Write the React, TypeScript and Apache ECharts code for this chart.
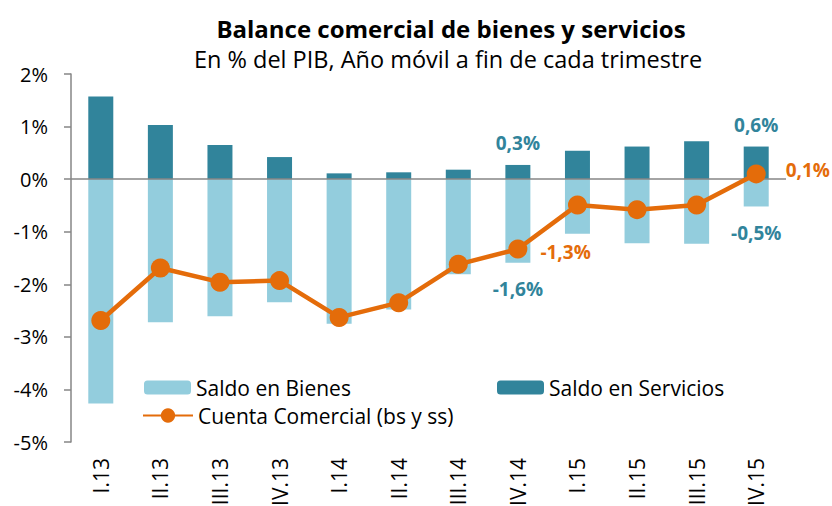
import React, { useEffect, useRef } from "react";
import * as echarts from "echarts";

const categories = ["I.13", "II.13", "III.13", "IV.13", "I.14", "II.14", "III.14", "IV.14", "I.15", "II.15", "III.15", "IV.15"];
const bienes = [-4.27, -2.72, -2.61, -2.34, -2.75, -2.48, -1.81, -1.59, -1.04, -1.22, -1.23, -0.52];
const servicios = [1.57, 1.03, 0.65, 0.42, 0.11, 0.13, 0.18, 0.27, 0.54, 0.62, 0.72, 0.62];
const cuenta = [-2.69, -1.69, -1.96, -1.93, -2.63, -2.35, -1.62, -1.33, -0.49, -0.58, -0.49, 0.1];
const yTicks = [-5, -4, -3, -2, -1, 0, 1, 2];
const labeledIdx = [7, 11];

const FONT = "'Open Sans', sans-serif";
const TEAL = "#31849B";
const LIGHT = "#93CDDD";
const ORANGE = "#E46C0A";
const AXIS = "#868686";
const fmt = (v: number) => v.toFixed(1).replace(".", ",") + "%";

export default function App() {
  const ref = useRef<HTMLDivElement>(null);
  useEffect(() => {
    if (!ref.current) return;
    const chart = echarts.init(ref.current, undefined, { renderer: "svg" });
    const barLabel = (pos: string, dist: number) => ({
      show: true,
      position: pos,
      distance: dist,
      color: TEAL,
      fontWeight: "bold",
      fontSize: 19,
      fontFamily: FONT,
      formatter: (p: any) => fmt(p.value),
    });
    const lineLabelCfg: Record<number, any> = {
      7: { distance: 13, offset: [0, 3] },
      11: { distance: 20, offset: [0, -4] },
    };
    const legendText = { fontFamily: FONT, fontSize: 21, color: "#000" };
    chart.setOption({
      animation: false,
      textStyle: { fontFamily: FONT },
      title: [
        {
          text: "Balance comercial de bienes y servicios",
          left: 451,
          top: 15,
          padding: 0,
          textAlign: "center",
          textStyle: { fontFamily: FONT, fontWeight: "bold", fontSize: 24, lineHeight: 26, color: "#000" },
        },
        {
          text: "En % del PIB, Año móvil a fin de cada trimestre",
          left: 448,
          top: 46,
          padding: 0,
          textAlign: "center",
          textStyle: { fontFamily: FONT, fontWeight: "normal", fontSize: 23.5, lineHeight: 25, color: "#000" },
        },
      ],
      legend: [
        {
          data: ["Saldo en Bienes"],
          left: 139,
          top: 372,
          itemWidth: 47,
          itemHeight: 14,
          textStyle: legendText,
        },
        {
          data: ["Saldo en Servicios"],
          left: 492,
          top: 372,
          itemWidth: 47,
          itemHeight: 14,
          textStyle: legendText,
        },
        {
          data: ["Cuenta Comercial (bs y ss)"],
          left: 137,
          top: 400,
          itemWidth: 50,
          itemHeight: 18,
          textStyle: legendText,
        },
      ],
      grid: { left: 71, right: 46, top: 74, bottom: 64, outerBoundsMode: "none", containLabel: false },
      xAxis: {
        type: "category",
        data: categories,
        axisLine: { show: false },
        axisTick: { show: false },
        axisLabel: {
          rotate: 90,
          margin: 16,
          fontSize: 21,
          color: "#000",
          fontFamily: FONT,
        },
      },
      yAxis: {
        type: "value",
        min: yTicks[0],
        max: yTicks[yTicks.length - 1],
        interval: 1,
        axisLine: { show: true, lineStyle: { color: AXIS, width: 1.5 } },
        axisTick: { show: true, length: 7, lineStyle: { color: AXIS, width: 1.5 } },
        splitLine: { show: false },
        axisLabel: {
          margin: 23,
          fontSize: 20,
          color: "#000",
          fontFamily: FONT,
          formatter: (v: number) => `${v}%`,
        },
      },
      series: [
        {
          name: "Saldo en Bienes",
          type: "bar",
          barWidth: 25,
          barGap: "-100%",
          itemStyle: { color: LIGHT },
          data: bienes.map((v, i) =>
            labeledIdx.includes(i) ? { value: v, label: barLabel("bottom", 17) } : v
          ),
          markLine: {
            silent: true,
            symbol: "none",
            label: { show: false },
            lineStyle: { color: AXIS, width: 1.5, type: "solid" },
            data: [{ yAxis: 0 }],
          },
        },
        {
          name: "Saldo en Servicios",
          type: "bar",
          barWidth: 25,
          barGap: "-100%",
          itemStyle: { color: TEAL },
          data: servicios.map((v, i) =>
            labeledIdx.includes(i) ? { value: v, label: barLabel("top", 12) } : v
          ),
        },
        {
          name: "Cuenta Comercial (bs y ss)",
          type: "line",
          symbol: "circle",
          symbolSize: 19,
          lineStyle: { color: ORANGE, width: 4.5 },
          itemStyle: { color: ORANGE },
          data: cuenta.map((v, i) =>
            labeledIdx.includes(i)
              ? {
                  value: v,
                  label: {
                    show: true,
                    position: "right",
                    distance: lineLabelCfg[i].distance,
                    offset: lineLabelCfg[i].offset,
                    color: ORANGE,
                    fontWeight: "bold",
                    fontSize: 19,
                    fontFamily: FONT,
                    formatter: (p: any) => fmt(p.value),
                  },
                }
              : v
          ),
          z: 5,
        },
      ],
    });
    return () => chart.dispose();
  }, []);
  return <div ref={ref} style={{ width: 832, height: 506, position: "absolute", left: 0, top: 0 }} />;
}
